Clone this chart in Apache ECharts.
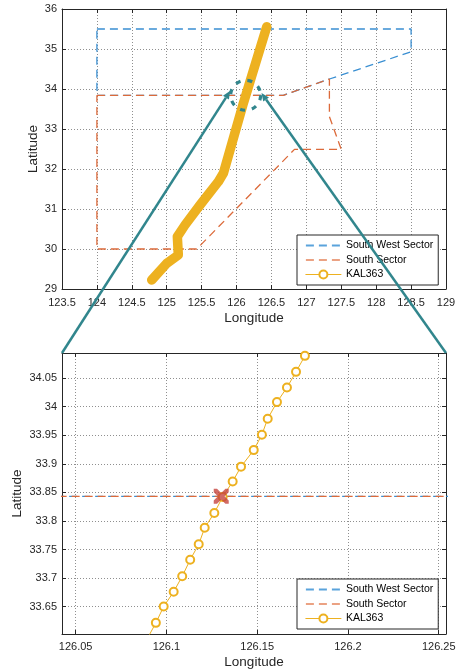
<!DOCTYPE html>
<html><head><meta charset="utf-8">
<script src="https://cdn.jsdelivr.net/npm/echarts@6/dist/echarts.min.js"></script>
<style>html,body{margin:0;padding:0;background:#fff}#c{width:458px;height:670px}</style>
</head><body><div id="c"></div>
<script>
// ---- data ----
const seriesNames = ['South West Sector', 'South Sector', 'KAL363'];
const swLon = [124, 128.5, 128.5, 127.33, 126.67, 124, 124];
const swLat = [35.5, 35.5, 34.93, 34.25, 33.843, 33.843, 35.5];
const sLon = [124, 126.67, 127.33, 127.33, 127.5, 126.83, 125.43, 124, 124];
const sLat = [33.843, 33.843, 34.25, 33.31, 32.49, 32.49, 30.0, 30.0, 33.843];
const trackLon = [126.433, 126.176, 126.094, 125.811, 125.739, 125.477, 125.262, 125.152, 125.166, 125.0, 124.785];
const trackLat = [35.558, 34.089, 33.62, 31.892, 31.683, 31.10, 30.60, 30.31, 29.85, 29.64, 29.225];
const zoomLon = [126.181, 126.1763, 126.1714, 126.1664, 126.1609, 126.1558, 126.1526, 126.1481, 126.1411, 126.1365, 126.1310, 126.1264, 126.1211, 126.1178, 126.1131, 126.1087, 126.1040, 126.0985, 126.0942, 126.0895];
const zoomLat = [34.117, 34.089, 34.061, 34.0335, 34.008, 33.979, 33.951, 33.924, 33.895, 33.869, 33.842, 33.814, 33.788, 33.759, 33.732, 33.703, 33.676, 33.650, 33.6215, 33.594];
const crossLon = 126.1302, crossLat = 33.843;
const overviewLonRange = [123.5, 129], overviewLatRange = [29, 36];
const zoomLonRange = [126.0425, 126.254], zoomLatRange = [33.602, 34.094];

// ---- style ----
const FONT = 'Liberation Sans, Arial, Helvetica, sans-serif';
const INK = '#262626';
const BLUE = '#3a8fd2', ORANGE = '#dc6a3a', YELLOW = '#EDB120', TEAL = '#31868d', XRED = '#c5453f';
const pairs = (xs, ys) => xs.map((x, i) => [x, ys[i]]);
const gridLine = { show: true, lineStyle: { color: '#8f8f8f', type: [1, 2], width: 1 } };

function mainX(grid, range, labelMargin, nameGap, extra) {
  return Object.assign({
    type: 'value', gridIndex: grid, min: range[0], max: range[1], position: 'bottom',
    name: 'Longitude', nameLocation: 'middle', nameGap: nameGap, nameMoveOverlap: false,
    nameTextStyle: { fontFamily: FONT, fontSize: 13.5, color: INK },
    axisLine: { show: true, onZero: false, lineStyle: { color: INK, width: 1 } },
    axisTick: { show: true, inside: true, length: 4, lineStyle: { color: INK } },
    axisLabel: { fontFamily: FONT, fontSize: 11, color: INK, margin: labelMargin },
    splitLine: gridLine
  }, extra || {});
}
function mainY(grid, range, nameGap, extra) {
  return Object.assign({
    type: 'value', gridIndex: grid, min: range[0], max: range[1], position: 'left',
    name: 'Latitude', nameLocation: 'middle', nameGap: nameGap, nameRotate: 90, nameMoveOverlap: false,
    nameTextStyle: { fontFamily: FONT, fontSize: 13.5, color: INK },
    axisLine: { show: true, onZero: false, lineStyle: { color: INK, width: 1 } },
    axisTick: { show: true, inside: true, length: 4, lineStyle: { color: INK } },
    axisLabel: { fontFamily: FONT, fontSize: 11, color: INK, margin: 5 },
    splitLine: gridLine
  }, extra || {});
}
function mirror(grid, range, pos, extra) {
  return Object.assign({
    type: 'value', gridIndex: grid, min: range[0], max: range[1], position: pos,
    axisLine: { show: true, onZero: false, lineStyle: { color: INK, width: 1 } },
    axisTick: { show: true, inside: true, length: 4, lineStyle: { color: INK } },
    axisLabel: { show: false }, splitLine: { show: false }
  }, extra || {});
}

const zoomXExtra = { splitNumber: 5, axisLabel: { fontFamily: FONT, fontSize: 11, color: INK, margin: 7, showMinLabel: false, showMaxLabel: false } };
const zoomYExtra = { splitNumber: 10, axisLabel: { fontFamily: FONT, fontSize: 11, color: INK, margin: 5, showMinLabel: false, showMaxLabel: false } };

function sectorSeries(name, lon, lat, color, xi, yi) {
  return {
    type: 'line', name: name, xAxisIndex: xi, yAxisIndex: yi, data: pairs(lon, lat),
    symbol: 'none', silent: true, z: 2,
    lineStyle: { color: color, width: 1.3, type: [8, 5] }, itemStyle: { color: color }
  };
}

function legendBox(top) {
  return {
    orient: 'vertical', left: 297, top: top, selectedMode: false,
    backgroundColor: '#fff', borderColor: INK, borderWidth: 1, borderRadius: 0,
    padding: [5, 5, 5, 8], itemWidth: 35, itemHeight: 10, itemGap: 3.5,
    textStyle: { fontFamily: FONT, fontSize: 10.5, color: '#000' },
    data: [
      { name: seriesNames[0], itemStyle: { opacity: 0 }, lineStyle: { color: '#5aa3dc', width: 1.8, type: [8, 5] } },
      { name: seriesNames[1], itemStyle: { opacity: 0 }, lineStyle: { color: '#eba283', width: 1.8, type: [8, 5] } },
      { name: seriesNames[2], itemStyle: { color: YELLOW, borderColor: YELLOW }, lineStyle: { color: YELLOW, width: 1.2, type: 'solid' } }
    ],
    z: 20
  };
}

const chart = echarts.init(document.getElementById('c'), null, { renderer: 'canvas' });
const option = {
  animation: false,
  backgroundColor: '#fff',
  grid: [
    { left: 62, top: 9, width: 384, height: 280, containLabel: false, outerBoundsMode: 'none' },
    { left: 62, top: 353, width: 384, height: 281, containLabel: false, outerBoundsMode: 'none' }
  ],
  xAxis: [
    mainX(0, overviewLonRange, 8, 22, { interval: 0.5 }),
    mirror(0, overviewLonRange, 'top', { interval: 0.5 }),
    mainX(1, zoomLonRange, 7, 21, zoomXExtra),
    mirror(1, zoomLonRange, 'top', { splitNumber: 5 })
  ],
  yAxis: [
    mainY(0, overviewLatRange, 22, { interval: 1 }),
    mirror(0, overviewLatRange, 'right', { interval: 1 }),
    mainY(1, zoomLatRange, 38, zoomYExtra),
    mirror(1, zoomLatRange, 'right', { splitNumber: 10 })
  ],
  legend: [legendBox(235), legendBox(579)],
  series: [
    sectorSeries(seriesNames[0], swLon, swLat, BLUE, 0, 0),
    sectorSeries(seriesNames[1], sLon, sLat, ORANGE, 0, 0),
    {
      type: 'line', name: seriesNames[2], xAxisIndex: 0, yAxisIndex: 0, data: pairs(trackLon, trackLat),
      symbol: 'emptyCircle', showSymbol: false, silent: true, z: 3,
      lineStyle: { color: YELLOW, width: 9.5, cap: 'round', join: 'round' }, itemStyle: { color: YELLOW }
    },
    sectorSeries(seriesNames[0], swLon, swLat, BLUE, 2, 2),
    sectorSeries(seriesNames[1], sLon, sLat, ORANGE, 2, 2),
    {
      type: 'line', name: seriesNames[2], xAxisIndex: 2, yAxisIndex: 2, data: pairs(zoomLon, zoomLat),
      symbol: 'emptyCircle', symbolSize: 8, showSymbol: true, showAllSymbol: true, silent: true, z: 3,
      lineStyle: { color: YELLOW, width: 1 }, itemStyle: { color: YELLOW, borderWidth: 1 }
    },
    {
      type: 'scatter', xAxisIndex: 2, yAxisIndex: 2, data: [[crossLon, crossLat]], silent: true, z: 6,
      symbol: 'path://M0,0 L2.2,0 L5,2.8 L7.8,0 L10,0 L10,2.2 L7.2,5 L10,7.8 L10,10 L7.8,10 L5,7.2 L2.2,10 L0,10 L0,7.8 L2.8,5 L0,2.2 Z',
      symbolSize: 15, itemStyle: { color: XRED }
    }
  ]
};
chart.setOption(option);

// ---- zoom annotation (derived from axis scales) ----
const c = chart.convertToPixel({ xAxisIndex: 0, yAxisIndex: 0 }, [crossLon, crossLat]);
const tl = chart.convertToPixel({ xAxisIndex: 2, yAxisIndex: 2 }, [zoomLonRange[0], zoomLatRange[1]]);
const tr = chart.convertToPixel({ xAxisIndex: 2, yAxisIndex: 2 }, [zoomLonRange[1], zoomLatRange[1]]);
const R = 15;
function connector(angleDeg, end) {
  const a = angleDeg * Math.PI / 180;
  const p = [c[0] + (R + 1) * Math.cos(a), c[1] + (R + 1) * Math.sin(a)];
  let ux = p[0] - end[0], uy = p[1] - end[1];
  const len = Math.hypot(ux, uy); ux /= len; uy /= len;
  const b = [p[0] - ux * 8, p[1] - uy * 8];
  const nx = -uy, ny = ux;
  return [
    { type: 'line', z: 100, shape: { x1: end[0], y1: end[1], x2: b[0], y2: b[1] }, style: { stroke: TEAL, lineWidth: 2.5 } },
    { type: 'polygon', z: 100, shape: { points: [p, [b[0] + nx * 3.5, b[1] + ny * 3.5], [b[0] - nx * 3.5, b[1] - ny * 3.5]] }, style: { fill: TEAL } }
  ];
}
chart.setOption({
  graphic: [
    { type: 'circle', z: 100, shape: { cx: c[0], cy: c[1], r: R }, style: { fill: 'none', stroke: TEAL, lineWidth: 3.2, lineDash: [5, 7] } }
  ].concat(connector(196, tl), connector(-8, tr))
});
</script>
</body></html>
